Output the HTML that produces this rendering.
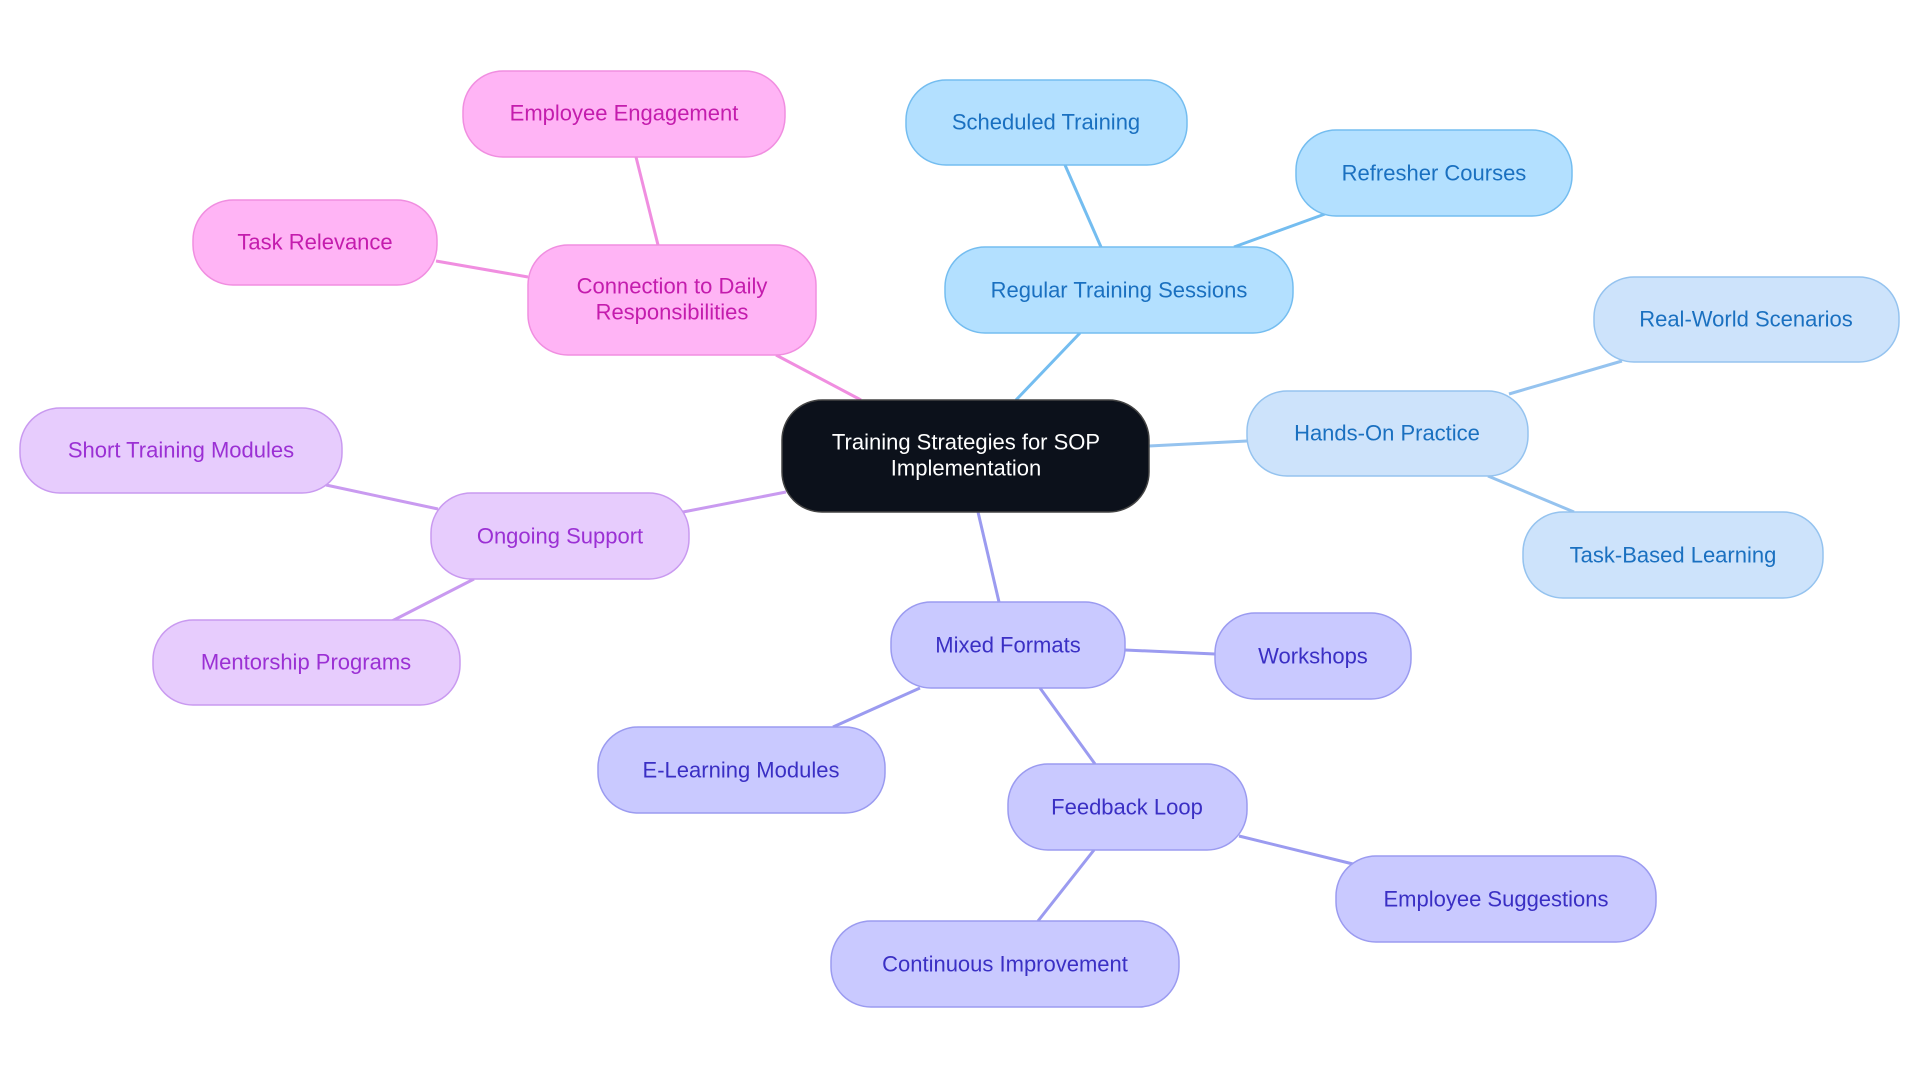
<!DOCTYPE html>
<html><head><meta charset="utf-8"><style>
html,body{margin:0;padding:0;background:#fff;}
svg{display:block}
text{font-family:"Liberation Sans",sans-serif;font-size:22px;text-anchor:middle;dominant-baseline:central}
</style></head><body>
<svg width="1920" height="1083" viewBox="0 0 1920 1083" xmlns="http://www.w3.org/2000/svg">
<g stroke-width="3" fill="none">
<line x1="1016" y1="400" x2="1080" y2="333" stroke="#74bdf0"/>
<line x1="1101" y1="247" x2="1065" y2="165" stroke="#74bdf0"/>
<line x1="1234" y1="247" x2="1325" y2="214" stroke="#74bdf0"/>
<line x1="1149" y1="446" x2="1247" y2="441" stroke="#95c3ef"/>
<line x1="1509" y1="394" x2="1622" y2="361" stroke="#95c3ef"/>
<line x1="1488" y1="476" x2="1574" y2="512" stroke="#95c3ef"/>
<line x1="978" y1="512" x2="999" y2="602" stroke="#9b9bf0"/>
<line x1="1125" y1="650" x2="1215" y2="654" stroke="#9b9bf0"/>
<line x1="920" y1="688" x2="833" y2="727" stroke="#9b9bf0"/>
<line x1="1040" y1="688" x2="1095" y2="764" stroke="#9b9bf0"/>
<line x1="1239" y1="836" x2="1353" y2="864" stroke="#9b9bf0"/>
<line x1="1094" y1="850" x2="1038" y2="921" stroke="#9b9bf0"/>
<line x1="786" y1="492" x2="683" y2="512" stroke="#c99af0"/>
<line x1="438" y1="509" x2="326" y2="485" stroke="#c99af0"/>
<line x1="474" y1="579" x2="392" y2="621" stroke="#c99af0"/>
<line x1="861" y1="400" x2="776" y2="355" stroke="#f08ee0"/>
<line x1="658" y1="245" x2="636" y2="157" stroke="#f08ee0"/>
<line x1="528" y1="277" x2="436" y2="261" stroke="#f08ee0"/>
</g>
<g stroke-width="1.5">
<rect x="782" y="400" width="367" height="112" rx="40" fill="#0c111b" stroke="#444"/>
<g fill="#b3e0ff" stroke="#74bdf0">
<rect x="945" y="247" width="348" height="86" rx="40"/>
<rect x="906" y="80" width="281" height="85" rx="40"/>
<rect x="1296" y="130" width="276" height="86" rx="40"/>
</g>
<g fill="#cde3fb" stroke="#95c3ef">
<rect x="1247" y="391" width="281" height="85" rx="40"/>
<rect x="1594" y="277" width="305" height="85" rx="40"/>
<rect x="1523" y="512" width="300" height="86" rx="40"/>
</g>
<g fill="#c9c9ff" stroke="#9b9bf0">
<rect x="891" y="602" width="234" height="86" rx="40"/>
<rect x="1215" y="613" width="196" height="86" rx="40"/>
<rect x="598" y="727" width="287" height="86" rx="40"/>
<rect x="1008" y="764" width="239" height="86" rx="40"/>
<rect x="1336" y="856" width="320" height="86" rx="40"/>
<rect x="831" y="921" width="348" height="86" rx="40"/>
</g>
<g fill="#e7ccfd" stroke="#c99af0">
<rect x="431" y="493" width="258" height="86" rx="40"/>
<rect x="20" y="408" width="322" height="85" rx="40"/>
<rect x="153" y="620" width="307" height="85" rx="40"/>
</g>
<g fill="#ffb4f5" stroke="#f08ee0">
<rect x="528" y="245" width="288" height="110" rx="40"/>
<rect x="463" y="71" width="322" height="86" rx="40"/>
<rect x="193" y="200" width="244" height="85" rx="40"/>
</g>
</g>
<text x="966" y="442" fill="#fff">Training Strategies for SOP</text>
<text x="966" y="468" fill="#fff">Implementation</text>
<g fill="#1a70c0">
<text x="1119" y="290">Regular Training Sessions</text>
<text x="1046" y="122">Scheduled Training</text>
<text x="1434" y="173">Refresher Courses</text>
<text x="1387" y="433">Hands-On Practice</text>
<text x="1746" y="319">Real-World Scenarios</text>
<text x="1673" y="555">Task-Based Learning</text>
</g>
<g fill="#3a2fc4">
<text x="1008" y="645">Mixed Formats</text>
<text x="1313" y="656">Workshops</text>
<text x="741" y="770">E-Learning Modules</text>
<text x="1127" y="807">Feedback Loop</text>
<text x="1496" y="899">Employee Suggestions</text>
<text x="1005" y="964">Continuous Improvement</text>
</g>
<g fill="#9b30d4">
<text x="560" y="536">Ongoing Support</text>
<text x="181" y="450">Short Training Modules</text>
<text x="306" y="662">Mentorship Programs</text>
</g>
<g fill="#c41cad">
<text x="672" y="286">Connection to Daily</text>
<text x="672" y="312">Responsibilities</text>
<text x="624" y="113">Employee Engagement</text>
<text x="315" y="242">Task Relevance</text>
</g>
</svg>
</body></html>
